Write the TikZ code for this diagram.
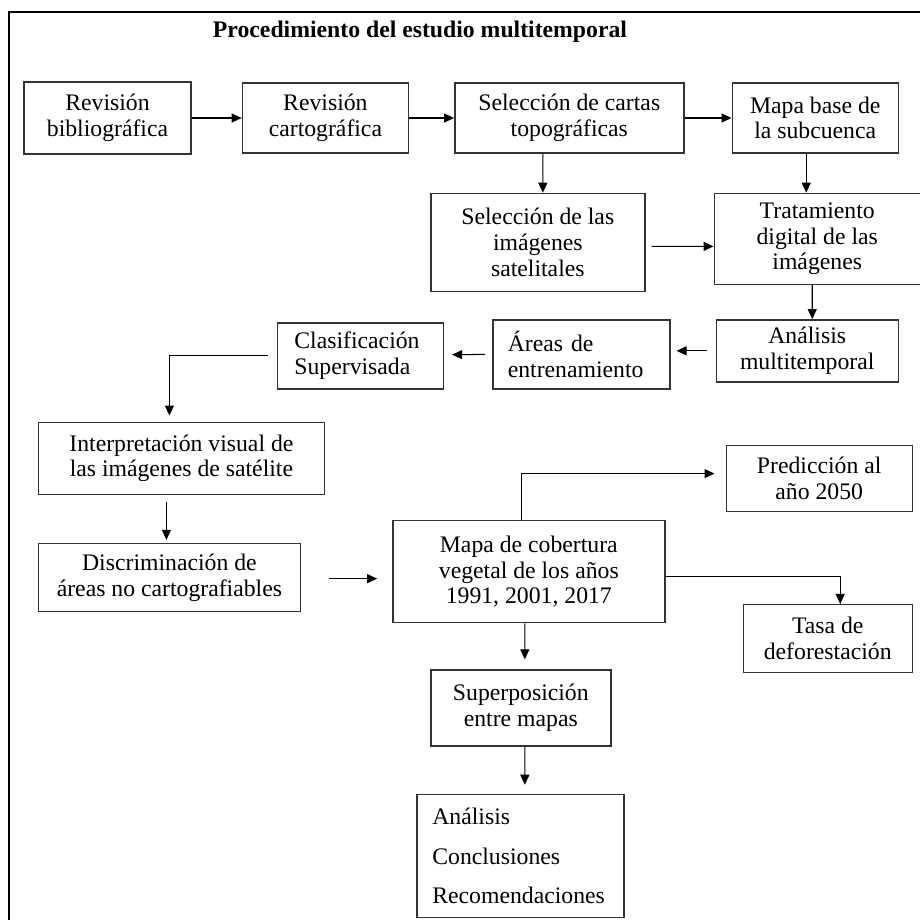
\documentclass[tikz,border=0pt]{standalone}
\usepackage{fontspec}
\setmainfont{Liberation Serif}
\usepackage{tikz}
\usetikzlibrary{positioning,arrows.meta}

\tikzset{
  caja/.style={draw=black!80, line width=0.8pt, align=center, inner sep=2pt,
    font=\fontsize{13.5}{14.6}\selectfont},
  cajaizq/.style={caja, align=left},
  flecha/.style={-{Triangle[length=2mm,width=1.8mm]}, line width=0.6pt},
}

\begin{document}
\begin{tikzpicture}
              \useasboundingbox (0,0) rectangle (184mm,-184mm);
              \draw[line width=1.1pt] (1.8mm,-2.4mm) rectangle (190mm,-190mm);
              \node[font=\fontsize{13.5}{14.6}\selectfont\bfseries] (titulo) at (84mm,-6.4mm) {Procedimiento del estudio multitemporal};

              \node[caja, minimum width=33.4mm, minimum height=14.4mm] (a) at (21.5mm,-23.6mm) {Revisión\\bibliográfica};
              \node[caja, minimum width=33.2mm, minimum height=14mm, right=10mm of a] (b) {Revisión\\cartográfica};
              \node[caja, minimum width=45.8mm, minimum height=14mm, right=9mm of b] (c) {Selección de cartas\\topográficas};
              \node[caja, minimum width=33.2mm, minimum height=14mm, right=9.4mm of c] (d) {Mapa base de\\la subcuenca};
              \node[caja, minimum width=42.8mm, minimum height=19.6mm, below=7.8mm of c, xshift=-6.3mm] (e) {Selección de las\\imágenes\\satelitales};
              \node[caja, minimum width=41.2mm, minimum height=18.2mm, below=7.8mm of d, xshift=0.4mm] (f) {Tratamiento\\digital de las\\imágenes};
              \node[caja, minimum width=36.4mm, minimum height=12.4mm, below=6.8mm of f, xshift=-2mm] (h) {Análisis\\multitemporal};
              \node[cajaizq, text width=29.4mm, inner xsep=3mm, minimum height=13.8mm, left=9mm of h, yshift=-0.7mm] (g) {Áreas de\\entrenamiento};
              \node[cajaizq, text width=26.4mm, inner xsep=3.4mm, minimum height=13.2mm, left=9.6mm of g, yshift=-0.3mm] (i) {Clasificación\\Supervisada};
              \node[caja, minimum width=57.2mm, minimum height=14.4mm, below=6.4mm of i, xshift=-35.8mm] (j) {Interpretación visual de\\las imágenes de satélite};
              \node[caja, minimum width=52.4mm, minimum height=13.6mm, below=9.6mm of j, xshift=-2.4mm] (k) {Discriminación de\\áreas no cartografiables};
              \node[caja, minimum width=54.4mm, minimum height=20.4mm, right=18.2mm of k, yshift=1.2mm] (m) {Mapa de cobertura\\vegetal de los años\\1991, 2001, 2017};
              \node[caja, minimum width=37.2mm, minimum height=13.2mm, right=12mm of m, yshift=18.6mm] (p) {Predicción al\\año 2050};
              \node[caja, minimum width=33.8mm, minimum height=13.6mm, right=15.4mm of m, yshift=-13.4mm] (t) {Tasa de\\deforestación};
              \node[caja, minimum width=36mm, minimum height=15.2mm, below=9.2mm of m, xshift=-1.6mm] (s) {Superposición\\entre mapas};
              \node[cajaizq, text width=35.2mm, inner xsep=3.1mm, minimum height=24.6mm, below=9.4mm of s, xshift=-0.1mm, font=\fontsize{13.5}{22.7}\selectfont] (r) {Análisis\\Conclusiones\\Recomendaciones};

              %fila 1
              \draw[flecha] (a) -- (b);
              \draw[flecha] (b) -- (c);
              \draw[flecha] (c) -- (d);

              %fila 2 y 3
              \draw[flecha] ([xshift=-5.3mm]c.south) -- ([xshift=1mm]e.north);
              \draw[flecha] ([xshift=-1.8mm]d.south) -- ([xshift=-2.2mm]f.north);
              \draw[flecha, shorten <=1.2mm] ([yshift=-0.8mm]e.east) -- ([yshift=-1.5mm]f.west);
              \draw[flecha] ([xshift=-1mm]f.south) -- ([xshift=1mm]h.north);
              \draw[flecha, shorten <=1.8mm, shorten >=1.2mm] (h.west) -- ([yshift=0.7mm]g.east);
              \draw[flecha, shorten <=1.4mm, shorten >=1.6mm] (g.west) -- ([yshift=0.2mm]i.east);
              \draw[flecha, shorten <=1.8mm, shorten >=1.2mm] (i.west) -| ([xshift=-2.4mm]j.north);
              \draw[flecha, shorten <=1.4mm, shorten >=0.6mm] ([xshift=-3mm]j.south) -- ([xshift=-0.6mm]k.north);

              %mapa de cobertura
              \draw[flecha, shorten <=5.6mm, shorten >=3mm] ([yshift=-0.2mm]k.east) -- ([yshift=-1.4mm]m.west);
              \draw[flecha, shorten >=2.2mm] ([xshift=-1.4mm]m.north) |- ([yshift=1mm]p.west);
              \draw[flecha] ([yshift=-1mm]m.east) -| ([xshift=2.5mm]t.north);
              \draw[flecha, shorten >=2mm] ([xshift=-0.8mm]m.south) -- ([xshift=0.8mm]s.north);
              \draw[flecha, shorten >=1.8mm] ([xshift=0.8mm]s.south) -- ([xshift=0.9mm]r.north);
\end{tikzpicture}
\end{document}
